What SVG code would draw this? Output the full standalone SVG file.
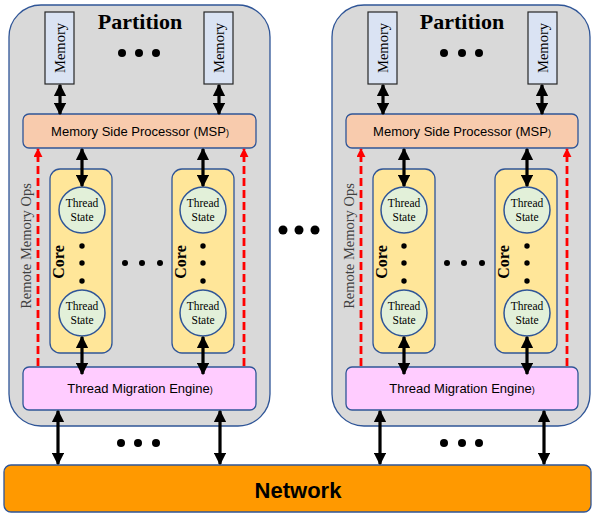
<svg xmlns="http://www.w3.org/2000/svg" width="592" height="514" viewBox="0 0 592 514">
<style>
.part{fill:#D9D9D9;stroke:#2F5597;stroke-width:1.3}
.mem{fill:#DAE3F3;stroke:#262626;stroke-width:1.2}
.msp{fill:#F8CBAD;stroke:#2F5597;stroke-width:1.3}
.core{fill:#FFE699;stroke:#2F5597;stroke-width:1.3}
.ts{fill:#E2F0D9;stroke:#2F5597;stroke-width:1.5}
.tme{fill:#FFCCFF;stroke:#2F5597;stroke-width:1.3}
.net{fill:#FF9900;stroke:#2F5597;stroke-width:1.3}
.serif{font-family:"Liberation Serif","Times New Roman",serif}
.sans{font-family:"Liberation Sans",Arial,sans-serif}
.ptitle{font-size:22px;font-weight:bold;fill:#000}
.memt{font-size:14.5px;fill:#000}
.coret{font-size:16px;font-weight:bold;fill:#000}
.tst{font-size:11.5px;fill:#000}
.rmo{font-size:14.5px;fill:#404040}
.box{font-size:13px;fill:#000}
.arr{stroke:#000;stroke-width:3.2;fill:none;marker-start:url(#ah);marker-end:url(#ah)}
.red{stroke:#FF0000;stroke-width:2.8;stroke-dasharray:8 4;fill:none;marker-end:url(#rh)}
.dot{fill:#000}
</style>
<defs>
<marker id="ah" viewBox="0 0 10 10" refX="9" refY="5" markerWidth="12.5" markerHeight="12.5" markerUnits="userSpaceOnUse" orient="auto-start-reverse">
<path d="M0,0 L10,5 L0,10 Z" fill="#000"/>
</marker>
<marker id="rh" viewBox="0 0 10 10" refX="9" refY="5" markerWidth="9" markerHeight="9" markerUnits="userSpaceOnUse" orient="auto">
<path d="M0,0 L10,5 L0,10 Z" fill="#FF0000"/>
</marker>
</defs>

<g id="partition-left">
<rect class="part" x="9" y="5" width="261" height="421" rx="32"/>
<text class="serif ptitle" x="140" y="28.5" text-anchor="middle">Partition</text>
<circle class="dot" cx="122" cy="53" r="4"/><circle class="dot" cx="139" cy="53" r="4"/><circle class="dot" cx="156" cy="53" r="4"/>
</g>
<g id="partition-right">
<rect class="part" x="332" y="5" width="258" height="421" rx="32"/>
<text class="serif ptitle" x="462" y="28.5" text-anchor="middle">Partition</text>
<circle class="dot" cx="444" cy="53" r="4"/><circle class="dot" cx="462" cy="53" r="4"/><circle class="dot" cx="479" cy="53" r="4"/>
</g>

<g id="memory-l1"><rect class="mem" x="45" y="12" width="29" height="72"/><text class="serif memt" transform="translate(64.5,48) rotate(-90)" text-anchor="middle">Memory</text></g>
<g id="memory-l2"><rect class="mem" x="204" y="12" width="29" height="72"/><text class="serif memt" transform="translate(223.5,48) rotate(-90)" text-anchor="middle">Memory</text></g>
<g id="memory-r1"><rect class="mem" x="368" y="12" width="29" height="72"/><text class="serif memt" transform="translate(387.5,48) rotate(-90)" text-anchor="middle">Memory</text></g>
<g id="memory-r2"><rect class="mem" x="528" y="12" width="29" height="72"/><text class="serif memt" transform="translate(547.5,48) rotate(-90)" text-anchor="middle">Memory</text></g>

<g id="msp-left"><rect class="msp" x="23" y="114" width="233" height="34" rx="6"/><text class="sans box" x="140" y="136" text-anchor="middle">Memory Side Processor (MSP<tspan font-size="9">)</tspan></text></g>
<g id="msp-right"><rect class="msp" x="346" y="114" width="232" height="34" rx="6"/><text class="sans box" x="462" y="136" text-anchor="middle">Memory Side Processor (MSP<tspan font-size="9">)</tspan></text></g>

<g id="core-l1"><rect class="core" x="50" y="169" width="62" height="184" rx="10"/><text class="serif coret" transform="translate(64,262) rotate(-90)" text-anchor="middle">Core</text>
<circle class="dot" cx="82" cy="246" r="2.7"/><circle class="dot" cx="82" cy="263" r="2.7"/><circle class="dot" cx="82" cy="281" r="2.7"/></g>
<g id="core-l2"><rect class="core" x="172" y="169" width="62" height="184" rx="10"/><text class="serif coret" transform="translate(186,262) rotate(-90)" text-anchor="middle">Core</text>
<circle class="dot" cx="203" cy="246" r="2.7"/><circle class="dot" cx="203" cy="263" r="2.7"/><circle class="dot" cx="203" cy="281" r="2.7"/></g>
<g id="core-r1"><rect class="core" x="373" y="169" width="62" height="184" rx="10"/><text class="serif coret" transform="translate(387,262) rotate(-90)" text-anchor="middle">Core</text>
<circle class="dot" cx="404" cy="246" r="2.7"/><circle class="dot" cx="404" cy="263" r="2.7"/><circle class="dot" cx="404" cy="281" r="2.7"/></g>
<g id="core-r2"><rect class="core" x="495" y="169" width="62" height="184" rx="10"/><text class="serif coret" transform="translate(509,262) rotate(-90)" text-anchor="middle">Core</text>
<circle class="dot" cx="527" cy="246" r="2.7"/><circle class="dot" cx="527" cy="263" r="2.7"/><circle class="dot" cx="527" cy="281" r="2.7"/></g>

<g id="ts-l1a"><circle class="ts" cx="82" cy="210" r="23"/><text class="serif tst" x="82" y="207" text-anchor="middle">Thread</text><text class="serif tst" x="82" y="221" text-anchor="middle">State</text></g>
<g id="ts-l1b"><circle class="ts" cx="82" cy="313" r="23"/><text class="serif tst" x="82" y="310" text-anchor="middle">Thread</text><text class="serif tst" x="82" y="324" text-anchor="middle">State</text></g>
<g id="ts-l2a"><circle class="ts" cx="203" cy="210" r="23"/><text class="serif tst" x="203" y="207" text-anchor="middle">Thread</text><text class="serif tst" x="203" y="221" text-anchor="middle">State</text></g>
<g id="ts-l2b"><circle class="ts" cx="203" cy="313" r="23"/><text class="serif tst" x="203" y="310" text-anchor="middle">Thread</text><text class="serif tst" x="203" y="324" text-anchor="middle">State</text></g>
<g id="ts-r1a"><circle class="ts" cx="404" cy="210" r="23"/><text class="serif tst" x="404" y="207" text-anchor="middle">Thread</text><text class="serif tst" x="404" y="221" text-anchor="middle">State</text></g>
<g id="ts-r1b"><circle class="ts" cx="404" cy="313" r="23"/><text class="serif tst" x="404" y="310" text-anchor="middle">Thread</text><text class="serif tst" x="404" y="324" text-anchor="middle">State</text></g>
<g id="ts-r2a"><circle class="ts" cx="527" cy="210" r="23"/><text class="serif tst" x="527" y="207" text-anchor="middle">Thread</text><text class="serif tst" x="527" y="221" text-anchor="middle">State</text></g>
<g id="ts-r2b"><circle class="ts" cx="527" cy="313" r="23"/><text class="serif tst" x="527" y="310" text-anchor="middle">Thread</text><text class="serif tst" x="527" y="324" text-anchor="middle">State</text></g>

<g id="dots-cores">
<circle class="dot" cx="125" cy="263" r="3"/><circle class="dot" cx="142" cy="263" r="3"/><circle class="dot" cx="160" cy="263" r="3"/>
<circle class="dot" cx="447" cy="263" r="3"/><circle class="dot" cx="464" cy="263" r="3"/><circle class="dot" cx="482" cy="263" r="3"/>
<circle class="dot" cx="283" cy="230" r="4.5"/><circle class="dot" cx="299" cy="230" r="4.5"/><circle class="dot" cx="315" cy="230" r="4.5"/>
<circle class="dot" cx="121" cy="443" r="4"/><circle class="dot" cx="138" cy="443" r="4"/><circle class="dot" cx="156" cy="443" r="4"/>
<circle class="dot" cx="444" cy="443" r="4"/><circle class="dot" cx="462" cy="443" r="4"/><circle class="dot" cx="479" cy="443" r="4"/>
</g>

<g id="tme-left"><rect class="tme" x="23" y="367" width="233" height="43" rx="6"/><text class="sans box" x="140" y="393" text-anchor="middle">Thread Migration Engine<tspan font-size="9">)</tspan></text></g>
<g id="tme-right"><rect class="tme" x="346" y="367" width="232" height="43" rx="6"/><text class="sans box" x="462" y="393" text-anchor="middle">Thread Migration Engine<tspan font-size="9">)</tspan></text></g>

<g id="network"><rect class="net" x="4" y="465" width="587" height="47" rx="7"/><text class="sans" x="298" y="498" text-anchor="middle" font-size="22" font-weight="bold" fill="#000">Network</text></g>

<g id="rmo-labels">
<text class="serif rmo" transform="translate(31,246) rotate(-90)" text-anchor="middle">Remote Memory Ops</text>
<text class="serif rmo" transform="translate(354,246) rotate(-90)" text-anchor="middle">Remote Memory Ops</text>
</g>

<g id="connectors">
<line class="arr" x1="60" y1="85" x2="60" y2="114"/>
<line class="arr" x1="219" y1="85" x2="219" y2="114"/>
<line class="arr" x1="383" y1="85" x2="383" y2="114"/>
<line class="arr" x1="542" y1="85" x2="542" y2="114"/>
<line class="arr" x1="82" y1="149" x2="82" y2="186"/>
<line class="arr" x1="203" y1="149" x2="203" y2="186"/>
<line class="arr" x1="404" y1="149" x2="404" y2="186"/>
<line class="arr" x1="527" y1="149" x2="527" y2="186"/>
<line class="arr" x1="82" y1="337" x2="82" y2="374"/>
<line class="arr" x1="203" y1="337" x2="203" y2="374"/>
<line class="arr" x1="404" y1="337" x2="404" y2="374"/>
<line class="arr" x1="527" y1="337" x2="527" y2="374"/>
<line class="arr" x1="58" y1="411" x2="58" y2="464"/>
<line class="arr" x1="220" y1="411" x2="220" y2="464"/>
<line class="arr" x1="380" y1="411" x2="380" y2="464"/>
<line class="arr" x1="544" y1="411" x2="544" y2="464"/>
<line class="red" x1="38" y1="366" x2="38" y2="149"/>
<line class="red" x1="244" y1="366" x2="244" y2="149"/>
<line class="red" x1="361" y1="366" x2="361" y2="149"/>
<line class="red" x1="567" y1="366" x2="567" y2="149"/>
</g>
</svg>
